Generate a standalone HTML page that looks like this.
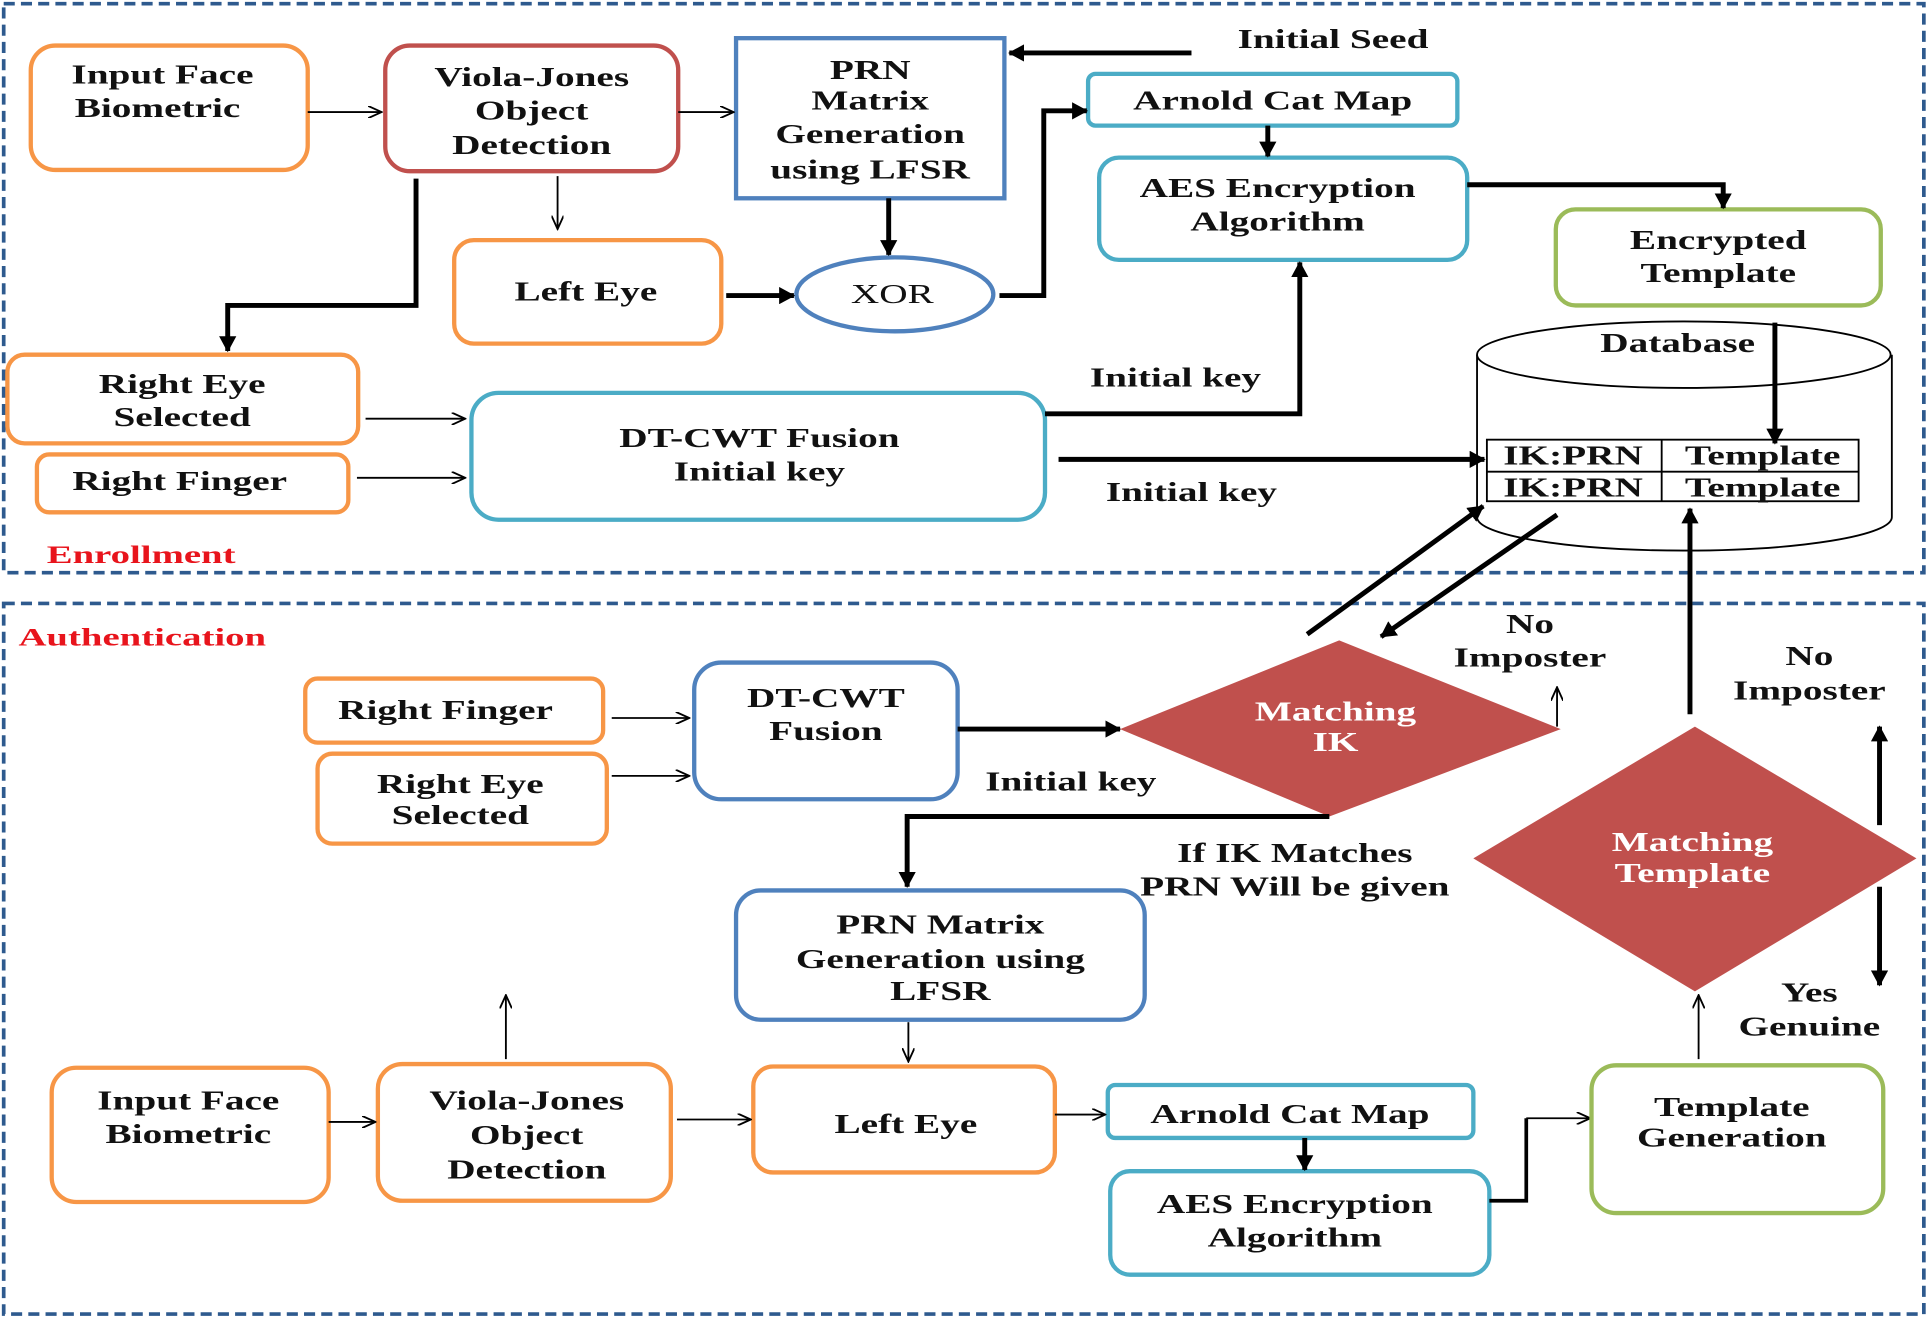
<!DOCTYPE html>
<html><head><meta charset="utf-8"><style>
html,body{margin:0;padding:0;background:#fff}
svg{display:block}
text{font-family:"Liberation Serif",serif;font-weight:bold;font-size:22px;fill:#111;text-anchor:middle;transform-box:fill-box;transform-origin:center;transform:scaleX(1.45)}
.o{fill:#fff;stroke:#f79646;stroke-width:3.5}
.r{fill:#fff;stroke:#c0504d;stroke-width:3.5}
.b{fill:#fff;stroke:#4f81bd;stroke-width:3.5}
.c{fill:#fff;stroke:#4bacc6;stroke-width:3.5}
.g{fill:#fff;stroke:#9bbb59;stroke-width:3.5}
.t{stroke:#000;stroke-width:1.5;fill:none}
.k{stroke:#000;stroke-width:4;fill:none}
text.w{fill:#fff}
text.red{fill:#e8141c;text-anchor:start;font-size:21px;transform-origin:left center;transform:scaleX(1.5)}
</style></head><body>
<svg width="1930" height="1319" viewBox="0 0 1568 1071" preserveAspectRatio="none" xmlns="http://www.w3.org/2000/svg">
<defs>
<marker id="ta" markerWidth="12" markerHeight="10" refX="11" refY="5" orient="auto" markerUnits="userSpaceOnUse"><path d="M0,0 L11,5 L0,10" fill="none" stroke="#000" stroke-width="1.5"/></marker>
<marker id="ka" markerWidth="14" markerHeight="14" refX="12" refY="7" orient="auto" markerUnits="userSpaceOnUse"><path d="M0,0 L13,7 L0,14 Z" fill="#000"/></marker>
</defs>
<rect x="3" y="3" width="1560" height="462" fill="none" stroke="#2e5a8e" stroke-width="3" stroke-dasharray="9,5"/>
<rect x="3" y="490" width="1560" height="577" fill="none" stroke="#2e5a8e" stroke-width="3" stroke-dasharray="9,5"/>

<rect class="o" x="25" y="37" width="225" height="101" rx="20"/>
<text x="132" y="68">Input Face</text><text x="128" y="95">Biometric</text>
<rect class="r" x="313" y="37" width="238" height="102" rx="20"/>
<text x="432" y="70">Viola-Jones</text><text x="432" y="97">Object</text><text x="432" y="125">Detection</text>
<rect class="b" x="598" y="31" width="218" height="130"/>
<text x="707" y="64">PRN</text><text x="707" y="89">Matrix</text><text x="707" y="116">Generation</text><text x="707" y="145">using LFSR</text>
<text x="1083" y="39">Initial Seed</text>
<path class="k" d="M968,43 L820,43" marker-end="url(#ka)"/>
<rect class="c" x="884" y="60" width="300" height="42" rx="6"/>
<text x="1034" y="89">Arnold Cat Map</text>
<rect class="c" x="893" y="128" width="299" height="83" rx="16"/>
<text x="1038" y="160">AES Encryption</text><text x="1038" y="187">Algorithm</text>
<rect class="g" x="1264" y="170" width="264" height="78" rx="16"/>
<text x="1396" y="202">Encrypted</text><text x="1396" y="229">Template</text>
<rect class="o" x="369" y="195" width="217" height="84" rx="16"/>
<text x="476" y="244">Left Eye</text>
<ellipse class="b" cx="727" cy="239" rx="80" ry="30"/>
<text x="725" y="246" style="font-weight:normal">XOR</text>
<rect class="o" x="6" y="288" width="285" height="72" rx="14"/>
<text x="148" y="319">Right Eye</text><text x="148" y="346">Selected</text>
<rect class="o" x="30" y="369" width="253" height="47" rx="10"/>
<text x="146" y="398">Right Finger</text>
<rect class="c" x="383" y="319" width="466" height="103" rx="22"/>
<text x="617" y="363">DT-CWT Fusion</text><text x="617" y="390">Initial key</text>
<path d="M1200,288 L1200,420 A168,27 0 0 0 1537,420 L1537,288" fill="#fff" stroke="#000" stroke-width="1.5"/>
<ellipse cx="1368" cy="288" rx="168" ry="27" fill="#fff" stroke="#000" stroke-width="1.5"/>
<text x="1363" y="286">Database</text>
<rect x="1208" y="357" width="302" height="50" fill="#fff" stroke="#000" stroke-width="1.5"/>
<line x1="1208" y1="383" x2="1510" y2="383" stroke="#000" stroke-width="1.5"/>
<line x1="1350" y1="357" x2="1350" y2="407" stroke="#000" stroke-width="1.5"/>
<text x="1278" y="377">IK:PRN</text><text x="1432" y="377">Template</text>
<text x="1278" y="403">IK:PRN</text><text x="1432" y="403">Template</text>
<text class="red" x="38" y="457">Enrollment</text>
<path class="t" d="M250,91 L310,91" marker-end="url(#ta)"/>
<path class="t" d="M551,91 L596,91" marker-end="url(#ta)"/>
<path class="t" d="M453,143 L453,186" marker-end="url(#ta)"/>
<path class="k" d="M338,145 L338,248 L185,248 L185,285" marker-end="url(#ka)"/>
<path class="k" d="M722,161 L722,207" marker-end="url(#ka)"/>
<path class="k" d="M590,240 L645,240" marker-end="url(#ka)"/>
<path class="k" d="M812,240 L848,240 L848,90 L883,90" marker-end="url(#ka)"/>
<path class="k" d="M1030,102 L1030,127" marker-end="url(#ka)"/>
<path class="k" d="M1192,150 L1400,150 L1400,169" marker-end="url(#ka)"/>
<path class="k" d="M1442,262 L1442,360" marker-end="url(#ka)"/>
<path class="t" d="M297,340 L378,340" marker-end="url(#ta)"/>
<path class="t" d="M290,388 L378,388" marker-end="url(#ta)"/>
<path class="k" d="M849,336 L1056,336 L1056,213" marker-end="url(#ka)"/>
<text x="955" y="314">Initial key</text>
<path class="k" d="M860,373 L1206,373" marker-end="url(#ka)"/>
<text x="968" y="407">Initial key</text>

<text class="red" x="15" y="524">Authentication</text>
<rect class="o" x="248" y="551" width="242" height="52" rx="10"/>
<text x="362" y="584">Right Finger</text>
<rect class="o" x="258" y="612" width="235" height="73" rx="12"/>
<text x="374" y="644">Right Eye</text><text x="374" y="669">Selected</text>
<rect class="b" x="564" y="538" width="214" height="111" rx="22"/>
<text x="671" y="574">DT-CWT</text><text x="671" y="601">Fusion</text>
<path class="t" d="M497,583 L560,583" marker-end="url(#ta)"/>
<path class="t" d="M497,630 L560,630" marker-end="url(#ta)"/>
<path class="k" d="M778,592 L910,592" marker-end="url(#ka)"/>
<text x="870" y="642">Initial key</text>
<polygon points="910,592 1088,520 1268,592 1080,663" fill="#c0504d"/>
<text x="1085" y="585" class="w">Matching</text><text x="1085" y="610" class="w">IK</text>
<text x="1243" y="514">No</text><text x="1243" y="541">Imposter</text>
<path class="t" d="M1265,590 L1265,558" marker-end="url(#ta)"/>
<path class="k" d="M1062,515 L1205,411" marker-end="url(#ka)"/>
<path class="k" d="M1265,418 L1122,517" marker-end="url(#ka)"/>
<path class="k" d="M1080,663 L737,663 L737,720" marker-end="url(#ka)"/>
<text x="1052" y="700">If IK Matches</text><text x="1052" y="727">PRN Will be given</text>
<rect class="b" x="598" y="723" width="332" height="105" rx="20"/>
<text x="764" y="758">PRN Matrix</text><text x="764" y="786">Generation using</text><text x="764" y="812">LFSR</text>
<path class="t" d="M738,830 L738,862" marker-end="url(#ta)"/>
<rect class="o" x="42" y="867" width="225" height="109" rx="20"/>
<text x="153" y="901">Input Face</text><text x="153" y="928">Biometric</text>
<rect class="o" x="307" y="864" width="238" height="111" rx="20"/>
<text x="428" y="901">Viola-Jones</text><text x="428" y="929">Object</text><text x="428" y="957">Detection</text>
<path class="t" d="M411,860 L411,808" marker-end="url(#ta)"/>
<rect class="o" x="612" y="866" width="245" height="86" rx="16"/>
<text x="736" y="920">Left Eye</text>
<rect class="c" x="900" y="881" width="297" height="43" rx="6"/>
<text x="1048" y="912">Arnold Cat Map</text>
<rect class="c" x="902" y="951" width="308" height="84" rx="16"/>
<text x="1052" y="985">AES Encryption</text><text x="1052" y="1012">Algorithm</text>
<path class="t" d="M267,911 L305,911" marker-end="url(#ta)"/>
<path class="t" d="M550,909 L610,909" marker-end="url(#ta)"/>
<path class="t" d="M857,905 L898,905" marker-end="url(#ta)"/>
<path class="k" d="M1060,924 L1060,950" marker-end="url(#ka)"/>
<path d="M1210,975 L1240,975 L1240,908" stroke="#000" stroke-width="3" fill="none"/>
<path class="t" d="M1240,908 L1292,908" marker-end="url(#ta)"/>
<rect class="g" x="1293" y="865" width="237" height="120" rx="20"/>
<text x="1407" y="906">Template</text><text x="1407" y="931">Generation</text>
<path class="t" d="M1380,860 L1380,808" marker-end="url(#ta)"/>
<polygon points="1197,697 1377,590 1557,697 1377,805" fill="#c0504d"/>
<text x="1375" y="691" class="w">Matching</text><text x="1375" y="716" class="w">Template</text>
<path class="k" d="M1373,580 L1373,413" marker-end="url(#ka)"/>
<path class="k" d="M1527,670 L1527,590" marker-end="url(#ka)"/>
<path class="k" d="M1527,720 L1527,800" marker-end="url(#ka)"/>
<text x="1470" y="540">No</text><text x="1470" y="568">Imposter</text>
<text x="1470" y="813">Yes</text><text x="1470" y="841">Genuine</text>
</svg>
</body></html>
